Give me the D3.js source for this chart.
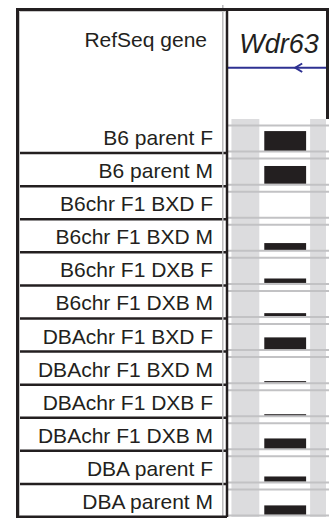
<!DOCTYPE html>
<html>
<head>
<meta charset="utf-8">
<script src="https://cdn.jsdelivr.net/npm/d3@7"></script>
<style>
  html, body { margin: 0; padding: 0; background: #fff; }
  svg { display: block; }
  text { font-family: "Liberation Sans", Arial, Helvetica, sans-serif; fill: #231f20; }
</style>
</head>
<body>
<svg id="chart" width="329" height="518"></svg>
<script>
// track labels, top to bottom
const trackLabels = [
  "B6 parent F", "B6 parent M",
  "B6chr F1 BXD F", "B6chr F1 BXD M",
  "B6chr F1 DXB F", "B6chr F1 DXB M",
  "DBAchr F1 BXD F", "DBAchr F1 BXD M",
  "DBAchr F1 DXB F", "DBAchr F1 DXB M",
  "DBA parent F", "DBA parent M"
];
// signal per track (0-100)
const signal = [75, 68, 0, 26, 17, 11, 45, 4, 4, 38, 19, 35];

const geneName = "Wdr63";
const geneHeader = "RefSeq gene";
// positions along the window (0-100)
const shadedRegions = [[3, 31.6], [83.7, 100]];
const signalRegion = [[36.7, 79.6]];
const strandArrowAt = [68.4];

const black = "#231f20";
const svg = d3.select("#chart");
const width = +svg.attr("width");

const frame = { left: 17.5, top: 9.5, right: 327.5, bottom: 517, split: 227 };

// rows
const y = d3.scaleBand().domain(trackLabels).range([120, frame.bottom]);
const bw = y.bandwidth();
// horizontal genome position inside the data column
const x = d3.scaleLinear().domain([0, 100]).range([228.5, 326]);
const h = d3.scaleLinear().domain([0, 100]).range([0, 26]);

// shaded columns
svg.append("g").selectAll("rect").data(shadedRegions).join("rect")
  .attr("x", d => x(d[0])).attr("width", d => x(d[1]) - x(d[0]))
  .attr("y", 119).attr("height", frame.bottom - 119)
  .attr("fill", "#dcdcde");

// gray track lines (top and baseline of each track)
const rows = svg.append("g").selectAll("g").data(trackLabels).join("g")
  .attr("transform", d => `translate(0,${y(d)})`);
rows.append("line")
  .attr("x1", frame.split).attr("x2", width)
  .attr("y1", 5.5).attr("y2", 5.5)
  .attr("stroke", "#c2c2c4").attr("stroke-width", 2);
rows.append("line")
  .attr("x1", frame.split).attr("x2", width)
  .attr("y1", bw - 1.5).attr("y2", bw - 1.5)
  .attr("stroke", "#c2c2c4").attr("stroke-width", 2);

// bars
rows.selectAll("rect.bar").data((d, i) => signalRegion.map(r => ({ r, v: signal[i] })))
  .join("rect").attr("class", "bar")
  .attr("x", d => x(d.r[0])).attr("width", d => x(d.r[1]) - x(d.r[0]))
  .attr("y", d => bw - 2.5 - h(d.v)).attr("height", d => h(d.v))
  .attr("fill", black);

// labels
rows.append("text")
  .attr("x", 213).attr("y", bw - 8)
  .attr("text-anchor", "end")
  .attr("font-size", "21px")
  .text(d => d);

// row separators in label column
svg.append("g").selectAll("line").data(trackLabels.slice(1)).join("line")
  .attr("x1", frame.left).attr("x2", frame.split)
  .attr("y1", d => y(d)).attr("y2", d => y(d))
  .attr("stroke", black).attr("stroke-width", 2.5);

// header
svg.append("text").attr("x", 207).attr("y", 46.5)
  .attr("text-anchor", "end").attr("font-size", "21px")
  .text(geneHeader);
svg.append("text").attr("x", 279).attr("y", 53)
  .attr("text-anchor", "middle").attr("font-size", "27px")
  .attr("font-style", "italic")
  .text(geneName);

// gene line with strand arrow
svg.append("line")
  .attr("x1", frame.split).attr("x2", width)
  .attr("y1", 67.7).attr("y2", 67.7)
  .attr("stroke", "#2e3192").attr("stroke-width", 2);
svg.append("g").selectAll("path").data(strandArrowAt).join("path")
  .attr("d", d => `M${x(d) + 7},63.5 L${x(d)},67.7 L${x(d) + 7},72`)
  .attr("fill", "none").attr("stroke", "#2e3192").attr("stroke-width", 2);

// frame
svg.append("line")
  .attr("x1", 222.8).attr("x2", 222.8).attr("y1", 5).attr("y2", frame.bottom)
  .attr("stroke", "#b9b9bb").attr("stroke-width", 1.5);
svg.append("path")
  .attr("d", `M${frame.left + 2},${frame.bottom - 1.5} V${frame.top + 2} H${frame.split - 2}`)
  .attr("fill", "none").attr("stroke", "#c8c8c8").attr("stroke-width", 1);
svg.append("path")
  .attr("d", `M${frame.split},${frame.bottom} H${frame.left} V${frame.top} H${frame.right} V119`)
  .attr("fill", "none").attr("stroke", black).attr("stroke-width", 3);
svg.append("line")
  .attr("x1", frame.split).attr("x2", frame.split)
  .attr("y1", frame.top).attr("y2", frame.bottom)
  .attr("stroke", black).attr("stroke-width", 2.5);
</script>
</body>
</html>
